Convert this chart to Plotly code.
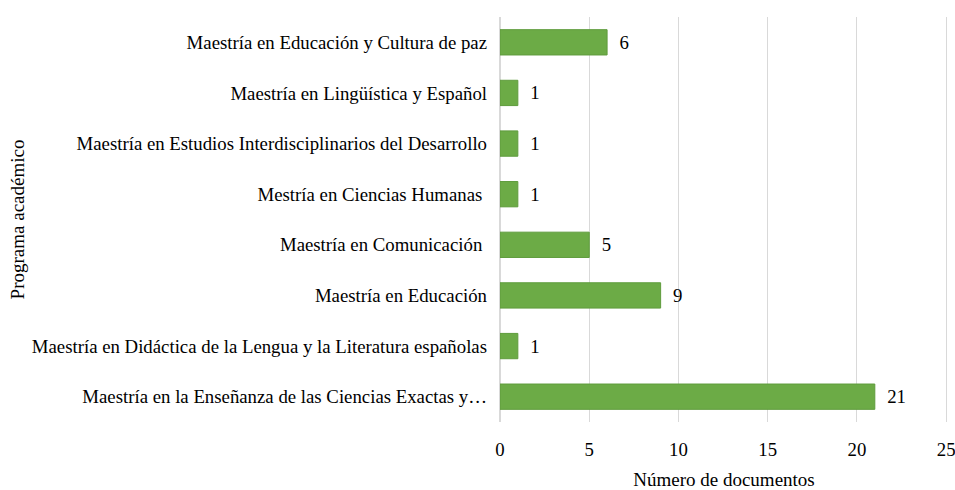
import plotly.graph_objects as go

programas = [
    "Maestría en la Enseñanza de las Ciencias Exactas y…",
    "Maestría en Didáctica de la Lengua y la Literatura españolas",
    "Maestría en Educación",
    "Maestría en Comunicación ",
    "Mestría en Ciencias Humanas ",
    "Maestría en Estudios Interdisciplinarios del Desarrollo",
    "Maestría en Lingüística y Español",
    "Maestría en Educación y Cultura de paz",
]
documentos = [21, 1, 9, 5, 1, 1, 1, 6]
x_ticks = [0, 5, 10, 15, 20, 25]

font_family = "Liberation Serif, Times New Roman, serif"

fig = go.Figure(
    go.Bar(
        y=programas,
        x=documentos,
        orientation="h",
        marker=dict(color="#6cab46", line=dict(color="#5f9c3d", width=1)),
        width=0.5,
        text=documentos,
        texttemplate="  %{text}",
        textposition="outside",
        textfont=dict(family=font_family, size=18.8, color="#000000"),
        cliponaxis=False,
    )
)

fig.update_layout(
    width=955,
    height=490,
    margin=dict(l=500, r=7, t=17, b=68, autoexpand=False),
    plot_bgcolor="white",
    paper_bgcolor="white",
    font=dict(family=font_family, size=18.8, color="#000000"),
    showlegend=False,
    bargap=0.5,
)
fig.update_xaxes(
    range=[0, 25.1],
    tickvals=x_ticks,
    showgrid=True,
    gridcolor="#d9d9d9",
    gridwidth=1,
    zeroline=True,
    zerolinecolor="#d9d9d9",
    showline=False,
    ticks="",
    ticklabelstandoff=14,
    ticklabeloverflow="allow",
    automargin=False,
    title=dict(text="Número de documentos", standoff=17, font=dict(size=19)),
)
fig.update_yaxes(
    showgrid=False,
    showline=False,
    ticks="",
    ticklabelstandoff=12,
    automargin=False,
    title=dict(text="Programa académico", standoff=2, font=dict(size=19)),
)

fig.write_html(
    "out.html",
    config={"displayModeBar": False},
    post_script="document.body.style.margin='0';document.body.style.overflow='hidden';",
)
